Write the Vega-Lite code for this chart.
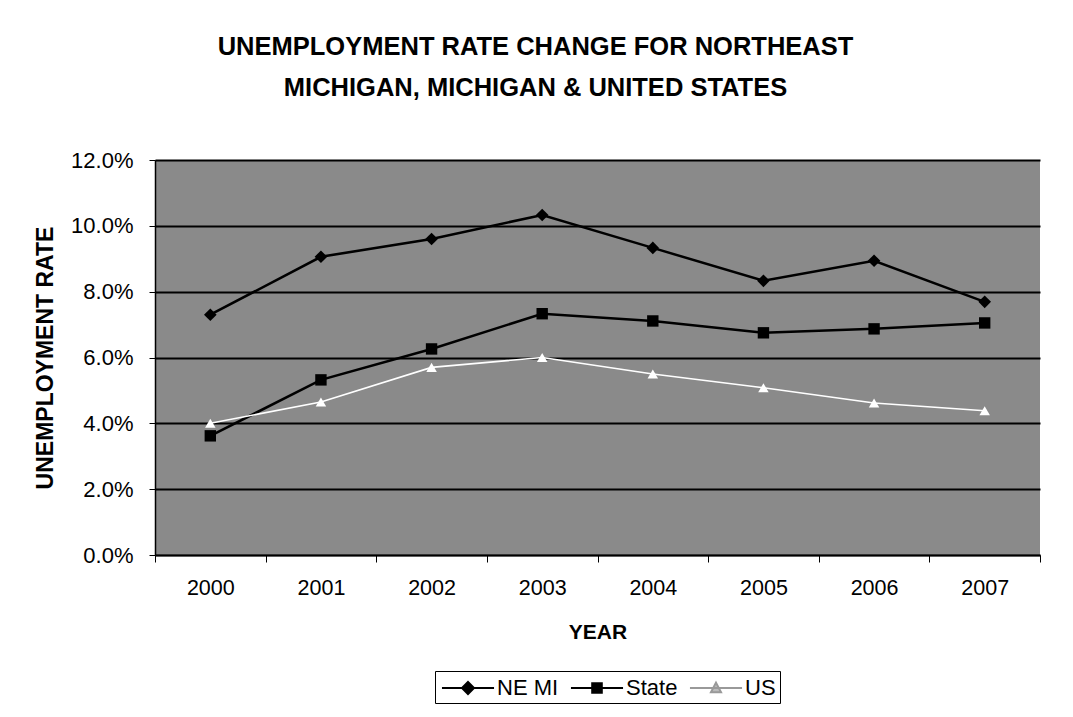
{
  "$schema": "https://vega.github.io/schema/vega-lite/v6.json",
  "width": 885,
  "height": 395,
  "autosize": "none",
  "padding": {"left": 155, "top": 160, "right": 33, "bottom": 162},
  "background": "white",
  "title": {
    "text": ["UNEMPLOYMENT RATE CHANGE FOR NORTHEAST", "MICHIGAN, MICHIGAN & UNITED STATES"],
    "font": "Liberation Sans",
    "fontSize": 25.5,
    "fontWeight": "bold",
    "color": "black",
    "anchor": "middle",
    "dx": -62,
    "lineHeight": 41,
    "offset": 48
  },
  "config": {
    "view": {"fill": "#8a8a8a", "stroke": null},
    "font": "Liberation Sans"
  },
  "data": {
    "values": [
      {"year": "2000", "series": "NE MI", "rate": 0.073},
      {"year": "2001", "series": "NE MI", "rate": 0.0906},
      {"year": "2002", "series": "NE MI", "rate": 0.096},
      {"year": "2003", "series": "NE MI", "rate": 0.1033},
      {"year": "2004", "series": "NE MI", "rate": 0.0933},
      {"year": "2005", "series": "NE MI", "rate": 0.0833},
      {"year": "2006", "series": "NE MI", "rate": 0.0894},
      {"year": "2007", "series": "NE MI", "rate": 0.0769},
      {"year": "2000", "series": "State", "rate": 0.0362},
      {"year": "2001", "series": "State", "rate": 0.0532},
      {"year": "2002", "series": "State", "rate": 0.0626},
      {"year": "2003", "series": "State", "rate": 0.0733},
      {"year": "2004", "series": "State", "rate": 0.0711},
      {"year": "2005", "series": "State", "rate": 0.0675},
      {"year": "2006", "series": "State", "rate": 0.0687},
      {"year": "2007", "series": "State", "rate": 0.0705},
      {"year": "2000", "series": "US", "rate": 0.040},
      {"year": "2001", "series": "US", "rate": 0.0465},
      {"year": "2002", "series": "US", "rate": 0.057},
      {"year": "2003", "series": "US", "rate": 0.060},
      {"year": "2004", "series": "US", "rate": 0.055},
      {"year": "2005", "series": "US", "rate": 0.0508},
      {"year": "2006", "series": "US", "rate": 0.0462},
      {"year": "2007", "series": "US", "rate": 0.0438}
    ]
  },
  "encoding": {
    "x": {
      "field": "year",
      "type": "ordinal",
      "bandPosition": 0.5,
      "scale": {"type": "band", "paddingInner": 0, "paddingOuter": 0},
      "axis": {
        "title": "YEAR",
        "titleFontSize": 21,
        "titleFontWeight": "bold",
        "titleColor": "black",
        "titlePadding": 23,
        "labelAngle": 0,
        "labelFontSize": 21.5,
        "labelColor": "black",
        "labelPadding": 15,
        "tickBand": "extent",
        "tickColor": "black",
        "tickSize": 7,
        "domainColor": "black",
        "domainWidth": 1.5,
        "grid": false
      }
    },
    "y": {
      "field": "rate",
      "type": "quantitative",
      "scale": {"domain": [0, 0.12], "nice": false},
      "axis": {
        "title": "UNEMPLOYMENT RATE",
        "titleFontSize": 23,
        "titleFontWeight": "bold",
        "titleColor": "black",
        "titlePadding": 13,
        "format": ".1%",
        "values": [0, 0.02, 0.04, 0.06, 0.08, 0.1, 0.12],
        "labelFontSize": 22,
        "labelColor": "black",
        "labelPadding": 16,
        "tickColor": "black",
        "tickSize": 6,
        "domainColor": "black",
        "domainWidth": 1.5,
        "grid": true,
        "gridColor": "black",
        "gridWidth": 2
      }
    }
  },
  "layer": [
    {
      "transform": [{"filter": "datum.series !== 'US'"}],
      "mark": {"type": "line", "color": "black", "strokeWidth": 2.5},
      "encoding": {"detail": {"field": "series", "type": "nominal"}}
    },
    {
      "transform": [{"filter": "datum.series === 'US'"}],
      "mark": {"type": "line", "color": "white", "strokeWidth": 1.6},
      "encoding": {}
    },
    {
      "transform": [{"filter": "datum.series === 'NE MI'"}],
      "mark": {"type": "point", "shape": "diamond", "filled": true, "color": "black", "opacity": 1, "size": 160}
    },
    {
      "transform": [{"filter": "datum.series === 'State'"}],
      "mark": {"type": "point", "shape": "square", "filled": true, "color": "black", "opacity": 1, "size": 130}
    },
    {
      "transform": [{"filter": "datum.series === 'US'"}],
      "mark": {"type": "point", "shape": "triangle-up", "filled": true, "color": "white", "opacity": 1, "size": 110}
    },
    {
      "mark": {"type": "point", "opacity": 0, "size": 10},
      "encoding": {
        "shape": {
          "field": "series",
          "type": "nominal",
          "scale": {"domain": ["NE MI", "State", "US"], "range": ["M-2.17,0L2.17,0M0,-0.5L0.5,0L0,0.5L-0.5,0Z", "M-2.17,0L2.17,0M-0.4,-0.4L0.4,-0.4L0.4,0.4L-0.4,0.4Z", "M-2.17,0L2.17,0M0,-0.45L0.42,0.35L-0.42,0.35Z"]},
          "legend": {
            "title": null,
            "orient": "none",
            "legendX": 280,
            "legendY": 511,
            "direction": "horizontal",
            "labelFontSize": 22,
            "labelColor": "black",
            "labelOffset": 16,
            "symbolOffset": 16,
            "symbolOpacity": 1,
            "strokeColor": "black",
            "fillColor": "white",
            "padding": 4,
            "columnPadding": 7,
            "symbolSize": 576,
            "symbolStrokeWidth": 2
          }
        },
        "fill": {
          "field": "series",
          "type": "nominal",
          "scale": {"domain": ["NE MI", "State", "US"], "range": ["black", "black", "#bbbbbb"]},
          "legend": {
            "title": null,
            "orient": "none",
            "legendX": 280,
            "legendY": 511,
            "direction": "horizontal",
            "labelFontSize": 22,
            "labelColor": "black",
            "labelOffset": 16,
            "symbolOffset": 16,
            "symbolOpacity": 1,
            "strokeColor": "black",
            "fillColor": "white",
            "padding": 4,
            "columnPadding": 7,
            "symbolSize": 576,
            "symbolStrokeWidth": 2
          }
        },
        "stroke": {
          "field": "series",
          "type": "nominal",
          "scale": {"domain": ["NE MI", "State", "US"], "range": ["black", "black", "#999999"]},
          "legend": {
            "title": null,
            "orient": "none",
            "legendX": 280,
            "legendY": 511,
            "direction": "horizontal",
            "labelFontSize": 22,
            "labelColor": "black",
            "labelOffset": 16,
            "symbolOffset": 16,
            "symbolOpacity": 1,
            "strokeColor": "black",
            "fillColor": "white",
            "padding": 4,
            "columnPadding": 7,
            "symbolSize": 576,
            "symbolStrokeWidth": 2
          }
        }
      }
    }
  ]
}
